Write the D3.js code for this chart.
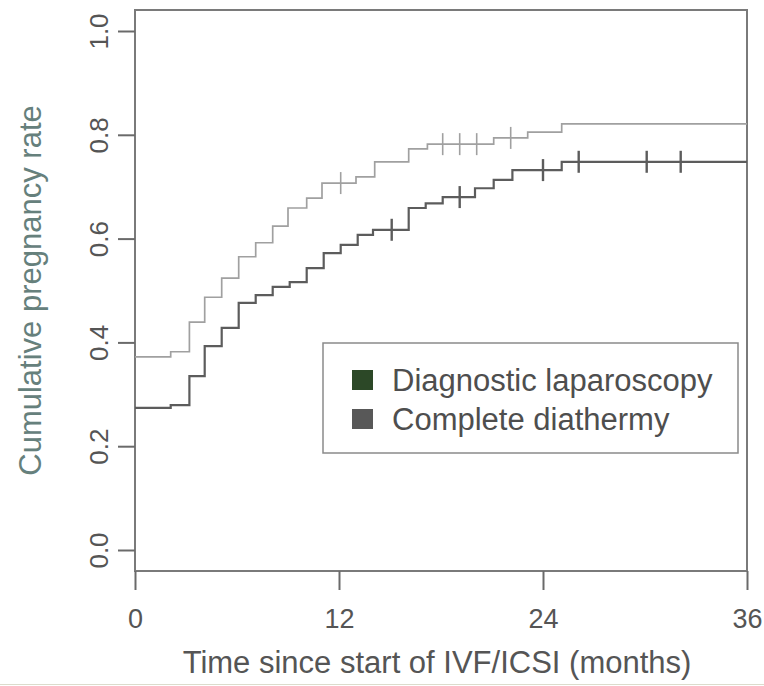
<!DOCTYPE html>
<html>
<head>
<meta charset="utf-8">
<script src="https://cdn.jsdelivr.net/npm/d3@7"></script>
<style>
  html, body { margin: 0; padding: 0; background: #ffffff; }
  svg { display: block; }
  text { font-family: "Liberation Sans", Arial, Helvetica, sans-serif; }
</style>
</head>
<body>
<svg id="chart" width="764" height="686"></svg>
<script>
// Kaplan-Meier style cumulative pregnancy curves (step functions)
// Upper curve: step times (months) and cumulative rate after each step
const upperTimes  = [0, 2.1, 3.2, 4.1, 5.1, 6.1, 7.1, 8.1, 9.0, 10.1, 11.0, 13.0, 14.1, 16.1, 17.2, 21.1, 23.1, 25.1];
const upperValues = [0.372, 0.382, 0.439, 0.487, 0.524, 0.565, 0.592, 0.624, 0.659, 0.678, 0.707, 0.719, 0.748, 0.773, 0.782, 0.794, 0.805, 0.821];
const upperCensored = [12.1, 18.1, 19.1, 20.1, 22.1];

// Lower curve
const lowerTimes  = [0, 2.1, 3.2, 4.1, 5.1, 6.1, 7.1, 8.1, 9.1, 10.1, 11.1, 12.1, 13.1, 14.0, 16.1, 17.1, 18.1, 20.0, 21.1, 22.2, 25.1];
const lowerValues = [0.274, 0.279, 0.335, 0.393, 0.428, 0.476, 0.491, 0.507, 0.516, 0.543, 0.572, 0.588, 0.607, 0.617, 0.659, 0.668, 0.680, 0.697, 0.713, 0.732, 0.748];
const lowerCensored = [15.1, 19.1, 24.0, 26.1, 30.1, 32.1];

const xTicks = [0, 12, 24, 36];
const yTicks = [0, 0.2, 0.4, 0.6, 0.8, 1.0];

const legendLabels = ["Diagnostic laparoscopy", "Complete diathermy"];
const legendColors = ["#2c4827", "#585858"];

const maxTime = 36;

const svg = d3.select("#chart");

const x = d3.scaleLinear().domain([0, 36]).range([135, 747]);
const y = d3.scaleLinear().domain([0, 1]).range([550, 31]);

// plot frame
svg.append("rect")
  .attr("x", 135).attr("y", 10)
  .attr("width", 747 - 135).attr("height", 571 - 10)
  .attr("fill", "none")
  .attr("stroke", "#7a7a7a")
  .attr("stroke-width", 2);

// y axis
const yAxis = svg.append("g")
  .attr("transform", "translate(135,0)")
  .call(d3.axisLeft(y).tickValues(yTicks).tickSize(17).tickFormat(d3.format(".1f")));
yAxis.select(".domain").remove();
yAxis.selectAll(".tick line").attr("stroke", "#6a6a6a").attr("stroke-width", 2);
yAxis.selectAll(".tick text")
  .attr("transform", "rotate(-90)")
  .attr("x", 0).attr("y", -27).attr("dy", 0)
  .attr("text-anchor", "middle")
  .attr("fill", "#555")
  .style("font-size", "26px");

// x axis
const xAxis = svg.append("g")
  .attr("transform", "translate(0,571)")
  .call(d3.axisBottom(x).tickValues(xTicks).tickSize(19).tickFormat(d3.format("d")));
xAxis.select(".domain").remove();
xAxis.selectAll(".tick line").attr("stroke", "#6a6a6a").attr("stroke-width", 2);
xAxis.selectAll(".tick text")
  .attr("y", 57).attr("dy", 0)
  .attr("fill", "#555")
  .style("font-size", "27px");

// axis titles
svg.append("text")
  .attr("transform", `translate(41,${(10 + 571) / 2}) rotate(-90)`)
  .attr("text-anchor", "middle")
  .attr("fill", "#66807c")
  .style("font-size", "31px")
  .text("Cumulative pregnancy rate");

svg.append("text")
  .attr("x", 437).attr("y", 673)
  .attr("text-anchor", "middle")
  .attr("fill", "#555")
  .style("font-size", "31px")
  .text("Time since start of IVF/ICSI (months)");

// step curves
function stepPoints(times, values) {
  const pts = times.map((t, i) => [t, values[i]]);
  pts.push([maxTime, values[values.length - 1]]);
  return pts;
}
function valueAt(times, values, t) {
  let v = values[0];
  for (let i = 0; i < times.length; i++) if (times[i] <= t) v = values[i];
  return v;
}
const line = d3.line()
  .x(d => x(d[0]))
  .y(d => y(d[1]))
  .curve(d3.curveStepAfter);

const series = [
  { times: upperTimes, values: upperValues, censored: upperCensored, color: "#a0a0a0", width: 1.7, markWidth: 1.6 },
  { times: lowerTimes, values: lowerValues, censored: lowerCensored, color: "#5c5c5c", width: 2.2, markWidth: 2.4 }
];

series.forEach(s => {
  svg.append("path")
    .datum(stepPoints(s.times, s.values))
    .attr("d", line)
    .attr("fill", "none")
    .attr("stroke", s.color)
    .attr("stroke-width", s.width);

  svg.append("g")
    .selectAll("line")
    .data(s.censored)
    .join("line")
    .attr("x1", d => x(d)).attr("x2", d => x(d))
    .attr("y1", d => y(valueAt(s.times, s.values, d)) - 11)
    .attr("y2", d => y(valueAt(s.times, s.values, d)) + 11)
    .attr("stroke", s.color)
    .attr("stroke-width", s.markWidth);
});

// legend
const legend = svg.append("g");
legend.append("rect")
  .attr("x", 323).attr("y", 343)
  .attr("width", 738 - 323).attr("height", 453 - 343)
  .attr("fill", "#ffffff")
  .attr("stroke", "#8a8a8a")
  .attr("stroke-width", 1.5);

const rowCenters = [380, 419];
legendLabels.forEach((label, i) => {
  legend.append("rect")
    .attr("x", 352).attr("y", rowCenters[i] - 10)
    .attr("width", 21).attr("height", 20)
    .attr("fill", legendColors[i]);
  legend.append("text")
    .attr("x", 392).attr("y", rowCenters[i] + 11)
    .attr("fill", "#4e4e4e")
    .style("font-size", "31px")
    .text(label);
});

// faint bottom edge line
svg.append("line")
  .attr("x1", 0).attr("x2", 764)
  .attr("y1", 684.5).attr("y2", 684.5)
  .attr("stroke", "#dcdccc")
  .attr("stroke-width", 1);
</script>
</body>
</html>
